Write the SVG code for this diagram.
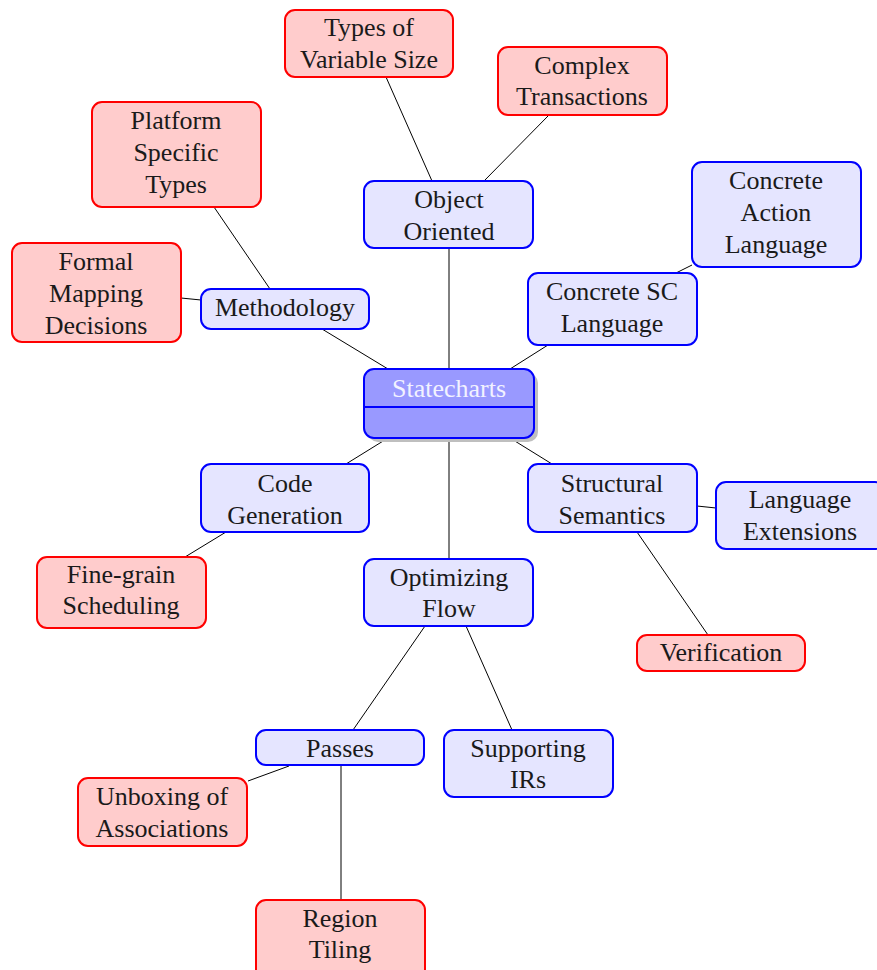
<svg xmlns="http://www.w3.org/2000/svg" width="877" height="970" viewBox="0 0 877 970">
  <style>
    text { font-family: "Liberation Serif", "DejaVu Serif", serif; font-size: 26px; text-anchor: middle; fill: #1a1a1a; }
    .blue rect { fill: #e5e5ff; stroke: #0000ff; stroke-width: 2; }
    .red rect { fill: #ffcccc; stroke: #ff0000; stroke-width: 2; }
    .edges line { stroke: #000; stroke-width: 1; }
  </style>
  <rect width="877" height="970" fill="#fff"/>

  <!-- connectors -->
  <g class="edges">
    <line x1="449" y1="369" x2="449" y2="248"/>
    <line x1="388" y1="369" x2="322" y2="329"/>
    <line x1="510" y1="369" x2="548" y2="345"/>
    <line x1="388" y1="438" x2="346" y2="464"/>
    <line x1="510" y1="438" x2="552" y2="464"/>
    <line x1="449" y1="438" x2="449" y2="559"/>
    <line x1="432" y1="181" x2="386" y2="77"/>
    <line x1="484" y1="181" x2="549" y2="115"/>
    <line x1="270" y1="289" x2="214" y2="207"/>
    <line x1="201" y1="300" x2="181" y2="298"/>
    <line x1="676" y1="273" x2="692" y2="265"/>
    <line x1="226" y1="532" x2="185" y2="557"/>
    <line x1="697" y1="506" x2="716" y2="508"/>
    <line x1="637" y1="532" x2="708" y2="635"/>
    <line x1="425" y1="626" x2="353" y2="730"/>
    <line x1="466" y1="626" x2="512" y2="730"/>
    <line x1="289" y1="766" x2="248" y2="781"/>
    <line x1="341" y1="766" x2="341" y2="900"/>
  </g>

  <!-- root -->
  <g id="statecharts">
    <rect x="368" y="373" width="170" height="69" rx="10" fill="#bfbfbf"/>
    <rect x="364" y="369" width="170" height="69" rx="10" fill="#9999ff" stroke="#0000ff" stroke-width="2"/>
    <line x1="364" y1="407" x2="534" y2="407" stroke="#0000ff" stroke-width="2"/>
    <text x="449" y="397" style="fill:#f2f2ff">Statecharts</text>
  </g>

  <!-- first level -->
  <g id="object-oriented" class="blue">
    <rect x="364" y="181" width="169" height="67" rx="10"/>
    <text x="449" y="208">Object</text>
    <text x="449" y="240">Oriented</text>
  </g>
  <g id="methodology" class="blue">
    <rect x="201" y="289" width="168" height="40" rx="10"/>
    <text x="285" y="316">Methodology</text>
  </g>
  <g id="concrete-sc" class="blue">
    <rect x="528" y="273" width="169" height="72" rx="10"/>
    <text x="612" y="300">Concrete SC</text>
    <text x="612" y="332">Language</text>
  </g>
  <g id="code-generation" class="blue">
    <rect x="201" y="464" width="168" height="68" rx="10"/>
    <text x="285" y="492">Code</text>
    <text x="285" y="524">Generation</text>
  </g>
  <g id="structural-semantics" class="blue">
    <rect x="528" y="464" width="169" height="68" rx="10"/>
    <text x="612" y="492">Structural</text>
    <text x="612" y="524">Semantics</text>
  </g>
  <g id="optimizing-flow" class="blue">
    <rect x="364" y="559" width="169" height="67" rx="10"/>
    <text x="449" y="586">Optimizing</text>
    <text x="449" y="617">Flow</text>
  </g>

  <!-- second level -->
  <g id="types-variable-size" class="red">
    <rect x="285" y="10" width="168" height="67" rx="10"/>
    <text x="369" y="36">Types of</text>
    <text x="369" y="68">Variable Size</text>
  </g>
  <g id="complex-transactions" class="red">
    <rect x="498" y="47" width="169" height="68" rx="10"/>
    <text x="582" y="74">Complex</text>
    <text x="582" y="105">Transactions</text>
  </g>
  <g id="platform-specific-types" class="red">
    <rect x="92" y="102" width="169" height="105" rx="10"/>
    <text x="176" y="129">Platform</text>
    <text x="176" y="161">Specific</text>
    <text x="176" y="193">Types</text>
  </g>
  <g id="formal-mapping" class="red">
    <rect x="12" y="243" width="169" height="99" rx="10"/>
    <text x="96" y="270">Formal</text>
    <text x="96" y="302">Mapping</text>
    <text x="96" y="334">Decisions</text>
  </g>
  <g id="concrete-action" class="blue">
    <rect x="692" y="162" width="169" height="105" rx="10"/>
    <text x="776" y="189">Concrete</text>
    <text x="776" y="221">Action</text>
    <text x="776" y="253">Language</text>
  </g>
  <g id="fine-grain" class="red">
    <rect x="37" y="557" width="169" height="71" rx="10"/>
    <text x="121" y="583">Fine-grain</text>
    <text x="121" y="614">Scheduling</text>
  </g>
  <g id="language-extensions" class="blue">
    <rect x="716" y="482" width="169" height="67" rx="10"/>
    <text x="800" y="508">Language</text>
    <text x="800" y="540">Extensions</text>
  </g>
  <g id="verification" class="red">
    <rect x="637" y="635" width="168" height="36" rx="10"/>
    <text x="721" y="661">Verification</text>
  </g>
  <g id="passes" class="blue">
    <rect x="256" y="730" width="168" height="35" rx="10"/>
    <text x="340" y="757">Passes</text>
  </g>
  <g id="supporting-irs" class="blue">
    <rect x="444" y="730" width="169" height="67" rx="10"/>
    <text x="528" y="757">Supporting</text>
    <text x="528" y="788">IRs</text>
  </g>

  <!-- third level -->
  <g id="unboxing" class="red">
    <rect x="78" y="778" width="169" height="68" rx="10"/>
    <text x="162" y="805">Unboxing of</text>
    <text x="162" y="837">Associations</text>
  </g>
  <g id="region-tiling" class="red">
    <rect x="256" y="900" width="169" height="80" rx="10"/>
    <text x="340" y="927">Region</text>
    <text x="340" y="958">Tiling</text>
  </g>
</svg>
